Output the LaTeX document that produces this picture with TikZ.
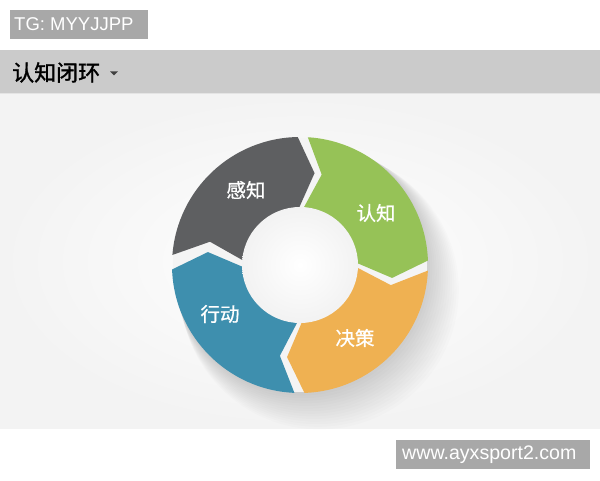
\documentclass[tikz,border=0pt]{standalone}
\usepackage{fontspec}
\setmainfont{Liberation Sans}
\newfontfamily\cjk[FakeBold=0.8]{Noto Sans CJK SC}
\newfontfamily\cjkb[FakeBold=1.4]{Noto Sans CJK SC}
\definecolor{tagbg}{HTML}{A8A8A8}
\definecolor{hdrbg}{HTML}{CBCBCB}
\definecolor{hdrline}{HTML}{E4E4E4}
\definecolor{segGray}{HTML}{5E5F61}
\definecolor{segGreen}{HTML}{96C257}
\definecolor{segOrange}{HTML}{EFB152}
\definecolor{segBlue}{HTML}{3E8FAE}
\definecolor{panelEdge}{HTML}{F3F3F3}
\definecolor{gapcol}{HTML}{F4F4F4}
\tikzset{
  tagtext/.style={text=white, anchor=west, inner sep=0pt, font=\fontsize{18.5}{20}\selectfont},
  wmtext/.style={text=white, anchor=west, inner sep=0pt, font=\fontsize{19.6}{21}\selectfont},
  seglabel/.style={text=white, inner sep=0pt, font=\cjk\fontsize{19.5}{21}\selectfont},
}
% segment: #1 start angle (ccw side), #2 end angle (cw side)
\newcommand{\ringseg}[3]{%
  \fill[#3] (#1:128) arc[start angle=#1, end angle=#2, radius=128]
    -- (#2-10:93) -- (#2:57) arc[start angle=#2, end angle=#1, radius=57]
    -- (#1-10:93) -- cycle;}
\begin{document}
\begin{tikzpicture}[x=1pt,y=1pt]
\useasboundingbox (0,0) rectangle (600,480);
\fill[white] (0,0) rectangle (600,480);
% tag
\fill[tagbg] (10,441) rectangle (148,470);
\node[tagtext] (tag) at (14,455.5) {TG: MYYJJPP};
% header
\fill[hdrbg] (0,387) rectangle (600,430);
\fill[hdrline] (0,385) rectangle (600,387);
\node[anchor=west, inner sep=0pt, font=\cjkb\fontsize{22}{24}\selectfont] (title) at (12,407.5) {认知闭环};
\fill[black!75] (110,408.5) -- (118,408.5) -- (114,404.5) -- cycle;
% panel
\shade[inner color=white, outer color=panelEdge] (0,52) rectangle (600,385);
% ring
\begin{scope}[shift={(300,215)}]
  \foreach \i in {1,...,14}{
    \fill[black, opacity=0.010] (\i*1.4,-\i*1.8) circle[radius=128+\i*0.8];
  }
  \fill[gapcol] (0,0) circle[radius=127];
  \ringseg{175.5}{91}{segGray}
  \ringseg{86.5}{2}{segGreen}
  \ringseg{-2.5}{-88}{segOrange}
  \ringseg{-92.5}{-178}{segBlue}
  \shade[inner color=white, outer color=black!5] (0,0) circle[radius=58];
  \node[seglabel] (perceive) at (-54,75) {感知};
  \node[seglabel] (cognize) at (76,52) {认知};
  \node[seglabel] (decide) at (55,-73) {决策};
  \node[seglabel] (act) at (-80,-49) {行动};
\end{scope}
% watermark
\fill[tagbg] (396,11) rectangle (590,40);
\node[wmtext] (wm) at (402,25.5) {www.ayxsport2.com};
\end{tikzpicture}
\end{document}
